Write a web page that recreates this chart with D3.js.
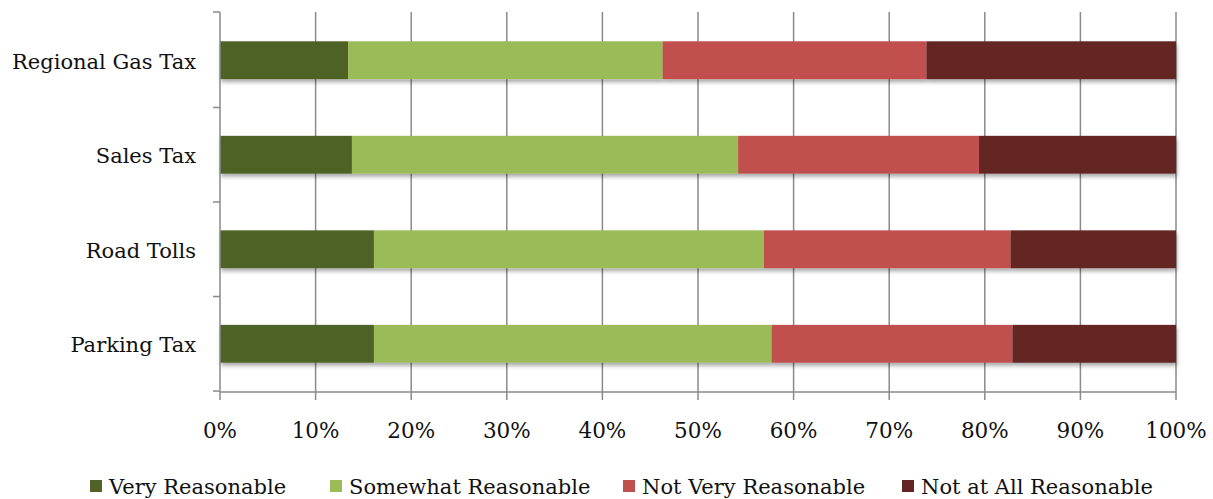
<!DOCTYPE html>
<html><head><meta charset="utf-8">
<script src="https://cdn.jsdelivr.net/npm/d3@7"></script>
<style>
html,body{margin:0;padding:0;background:#fff;}
svg{display:block;font-family:"DejaVu Serif","Liberation Serif",serif;}
</style></head>
<body>
<svg id="chart" width="1213" height="499"></svg>
<script>
const categories = ["Regional Gas Tax", "Sales Tax", "Road Tolls", "Parking Tax"];
const seriesNames = ["Very Reasonable", "Somewhat Reasonable", "Not Very Reasonable", "Not at All Reasonable"];
const veryReasonable = [13.4, 13.8, 16.1, 16.1];
const somewhatReasonable = [32.9, 40.4, 40.8, 41.6];
const notVeryReasonable = [27.6, 25.2, 25.8, 25.2];
const notAtAllReasonable = [26.1, 20.6, 17.3, 17.1];
const xTicks = [0, 10, 20, 30, 40, 50, 60, 70, 80, 90, 100];
const colors = ["#4F6228", "#9BBB59", "#C0504D", "#632523"];

const seriesValues = [veryReasonable, somewhatReasonable, notVeryReasonable, notAtAllReasonable];
const rows = categories.map((c, i) => {
  const r = {category: c};
  seriesNames.forEach((s, j) => r[s] = seriesValues[j][i]);
  return r;
});
const stacked = d3.stack().keys(seriesNames).offset(d3.stackOffsetExpand)(rows);

const svg = d3.select("#chart");
const mL = 220, mR = 1176, mT = 12, mB = 392;

const x = d3.scaleLinear().domain([0, 1]).range([mL, mR]);
const y = d3.scaleBand().domain(categories).range([mT, mB]).paddingInner(0.6).paddingOuter(0.31);

const defs = svg.append("defs");
const f = defs.append("filter").attr("id", "sh").attr("x", "-5%").attr("y", "-20%").attr("width", "110%").attr("height", "160%");
f.append("feGaussianBlur").attr("in", "SourceAlpha").attr("stdDeviation", 2);
f.append("feOffset").attr("dx", 1).attr("dy", 3);
f.append("feComponentTransfer").append("feFuncA").attr("type", "linear").attr("slope", 0.35);
const m = f.append("feMerge");
m.append("feMergeNode");
m.append("feMergeNode").attr("in", "SourceGraphic");

// gridlines
svg.append("g").selectAll("line").data(xTicks.slice(1)).join("line")
  .attr("x1", d => x(d / 100)).attr("x2", d => x(d / 100))
  .attr("y1", mT).attr("y2", mB + 8)
  .attr("stroke", "#8a8a8a").attr("stroke-width", 1.5);

// bars
const gBars = svg.append("g").attr("filter", "url(#sh)");
stacked.forEach((layer, j) => {
  gBars.append("g").attr("fill", colors[j]).selectAll("rect").data(layer).join("rect")
    .attr("x", d => x(d[0])).attr("width", d => x(d[1]) - x(d[0]))
    .attr("y", d => y(d.data.category)).attr("height", y.bandwidth());
});

// y axis
const step = y.step();
const boundaries = [mT].concat(categories.map(c => y(c) - step * y.paddingInner() / 2 + step));
const ax = svg.append("g").attr("stroke", "#8a8a8a").attr("stroke-width", 1.5);
ax.append("line").attr("x1", mL).attr("x2", mL).attr("y1", mT).attr("y2", mB);
ax.selectAll("line.t").data(boundaries).join("line").attr("class", "t")
  .attr("x1", mL - 7).attr("x2", mL).attr("y1", d => d).attr("y2", d => d);
// x axis
ax.append("line").attr("x1", mL).attr("x2", mR).attr("y1", mB).attr("y2", mB);
ax.append("line").attr("x1", mL).attr("x2", mL).attr("y1", mB).attr("y2", mB + 8);

svg.append("g").selectAll("text").data(xTicks).join("text")
  .attr("x", d => x(d / 100)).attr("y", 438)
  .attr("text-anchor", "middle").attr("font-size", 21.5).attr("fill", "#111")
  .text(d => d + "%");

svg.append("g").selectAll("text").data(categories).join("text")
  .attr("x", 196).attr("y", d => y(d) + y.bandwidth() / 2)
  .attr("dy", "0.4em").attr("text-anchor", "end").attr("font-size", 21).attr("fill", "#111")
  .text(d => d);

// legend
const legendX = [90, 330, 623, 902];
const lg = svg.append("g");
seriesNames.forEach((s, j) => {
  lg.append("rect").attr("x", legendX[j]).attr("y", 480).attr("width", 12).attr("height", 12).attr("fill", colors[j]);
  lg.append("text").attr("x", legendX[j] + 19).attr("y", 494).attr("font-size", 21).attr("fill", "#111").text(s);
});
</script>
</body></html>
